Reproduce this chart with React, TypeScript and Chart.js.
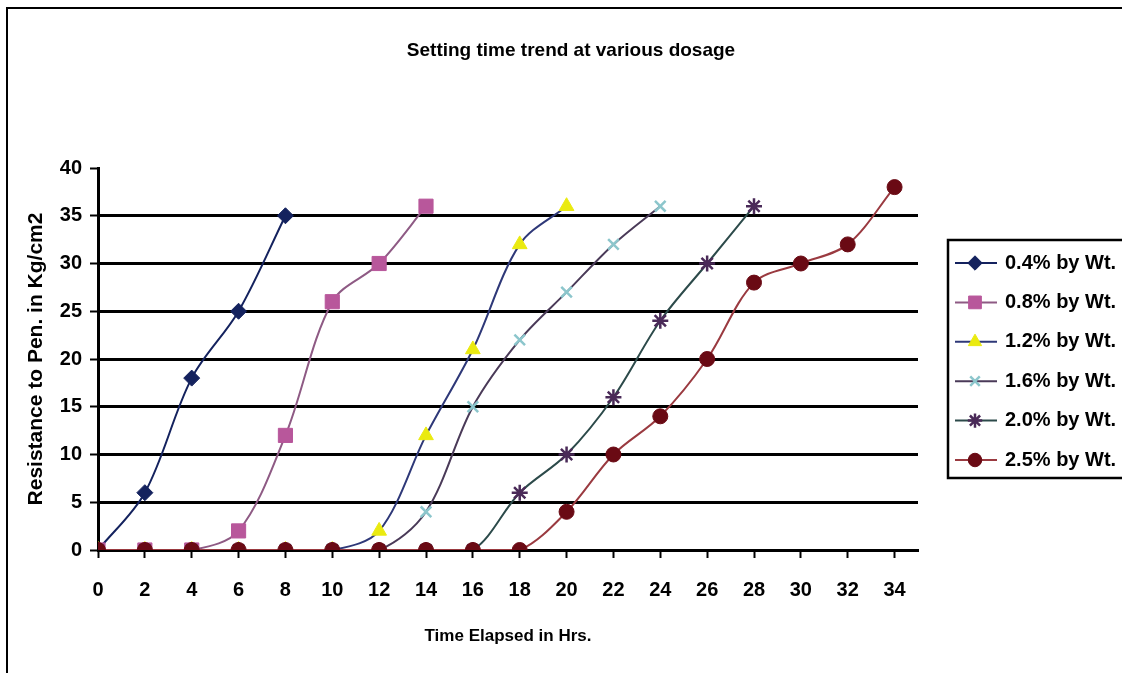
import { useEffect, useRef } from 'react';
import { Chart, registerables } from 'chart.js';
import { drawPoint } from 'chart.js/helpers';

Chart.register(...registerables);

const chartTitle = 'Setting time trend at various dosage';
const xTitle = 'Time Elapsed in Hrs.';
const yTitle = 'Resistance to Pen. in Kg/cm2';

const hours = [0, 2, 4, 6, 8, 10, 12, 14, 16, 18, 20, 22, 24, 26, 28, 30, 32, 34];
const seriesLabels = ['0.4% by Wt.', '0.8% by Wt.', '1.2% by Wt.', '1.6% by Wt.', '2.0% by Wt.', '2.5% by Wt.'];

const dose04 = [0, 6, 18, 25, 35];
const dose08 = [0, 0, 0, 2, 12, 26, 30, 36];
const dose12 = [0, 0, 0, 0, 0, 0, 2, 12, 21, 32, 36];
const dose16 = [0, 0, 0, 0, 0, 0, 0, 4, 15, 22, 27, 32, 36];
const dose20 = [0, 0, 0, 0, 0, 0, 0, 0, 0, 6, 10, 16, 24, 30, 36];
const dose25 = [0, 0, 0, 0, 0, 0, 0, 0, 0, 0, 4, 10, 14, 20, 28, 30, 32, 38];

const FONT = '"Liberation Sans", Arial, sans-serif';

const boxLegend = {
  id: 'boxLegend',
  afterDraw(chart: any) {
    const { ctx, chartArea } = chart;
    const right = chart.width + 20;
    const left = chartArea.right + 30;
    const top = chartArea.top + 72;
    const height = 238;
    ctx.save();
    ctx.strokeStyle = '#000';
    ctx.lineWidth = 2.5;
    ctx.beginPath();
    ctx.moveTo(right, top);
    ctx.lineTo(left, top);
    ctx.lineTo(left, top + height);
    ctx.lineTo(right, top + height);
    ctx.stroke();
    chart.data.datasets.forEach((ds: any, i: number) => {
      const y = top + 23 + i * 39.4;
      ctx.strokeStyle = ds.borderColor;
      ctx.lineWidth = 2;
      ctx.beginPath();
      ctx.moveTo(left + 7, y);
      ctx.lineTo(left + 49, y);
      ctx.stroke();
      ctx.fillStyle = ds.pointBackgroundColor;
      ctx.strokeStyle = ds.pointBorderColor;
      ctx.lineWidth = ds.pointBorderWidth;
      drawPoint(ctx, { pointStyle: ds.pointStyle, radius: ds.pointRadius * 0.9, borderWidth: ds.pointBorderWidth, rotation: 0 } as any, left + 27, y);
      ctx.fillStyle = '#000';
      ctx.font = `bold 20px ${FONT}`;
      ctx.textAlign = 'left';
      ctx.textBaseline = 'middle';
      ctx.fillText(ds.label, left + 57, y);
    });
    ctx.restore();
  },
};

export default function App() {
  const ref = useRef<HTMLCanvasElement>(null);

  useEffect(() => {
    const toXY = (vals: number[]) => vals.map((v, i) => ({ x: hours[i], y: v }));
    const mk = (
      idx: number,
      vals: number[],
      line: string,
      fill: string,
      stroke: string,
      style: string,
      radius: number,
      bw: number,
    ) => ({
      label: seriesLabels[idx],
      data: toXY(vals),
      borderColor: line,
      borderWidth: 2,
      pointBackgroundColor: fill,
      pointBorderColor: stroke,
      pointBorderWidth: bw,
      pointStyle: style,
      pointRadius: radius,
      tension: 0.33,
      order: 6 - idx,
      fill: false,
    });

    const chart = new Chart(ref.current as HTMLCanvasElement, {
      type: 'line',
      data: {
        datasets: [
          mk(0, dose04, '#14225e', '#14225e', '#14225e', 'rectRot', 8, 1),
          mk(1, dose08, '#8e5a84', '#b8579b', '#b8579b', 'rect', 10, 1),
          mk(2, dose12, '#2e3878', '#eaea10', '#eaea10', 'triangle', 8.5, 1),
          mk(3, dose16, '#4a3a58', '#8cc6cc', '#8cc6cc', 'crossRot', 7.5, 2.5),
          mk(4, dose20, '#2c4a4a', '#4a2a58', '#4a2a58', 'star', 8, 2.5),
          mk(5, dose25, '#9a3a40', '#6a0a14', '#6a0a14', 'circle', 7.5, 1),
        ] as any,
      },
      options: {
        responsive: false,
        animation: false,
        layout: { padding: { left: 20, right: 0, top: 0, bottom: 0 } },
        plugins: {
          legend: { display: false },
          tooltip: { enabled: false },
          title: {
            display: true,
            text: chartTitle,
            color: '#000',
            font: { family: FONT, size: 19, weight: 'bold', lineHeight: 1.2 },
            padding: { top: 39.6, bottom: 105.6 },
          },
        },
        scales: {
          x: {
            type: 'linear',
            min: 0,
            max: 35,
            afterFit: (s: any) => { s.height = 123; },
            ticks: {
              stepSize: 2,
              includeBounds: false,
              color: '#000',
              padding: 20,
              maxRotation: 0,
              font: { family: FONT, size: 20, weight: 'bold' },
            },
            grid: {
              drawOnChartArea: false,
              drawTicks: true,
              tickLength: 8,
              tickColor: '#000',
              tickWidth: 2,
            },
            border: { display: true, color: '#000', width: 3 },
            title: {
              display: true,
              text: xTitle,
              color: '#000',
              font: { family: FONT, size: 17, weight: 'bold', lineHeight: 1.2 },
              padding: { top: 0, bottom: 26.8 },
            },
          },
          y: {
            type: 'linear',
            position: 'left',
            min: 0,
            max: 40,
            afterFit: (s: any) => { s.width = 78; },
            ticks: {
              stepSize: 5,
              color: '#000',
              padding: 8,
              font: { family: FONT, size: 20, weight: 'bold' },
            },
            grid: {
              color: (c: any) => (c.tick && c.tick.value === 40 ? 'rgba(0,0,0,0)' : '#000'),
              lineWidth: 3,
              drawTicks: true,
              tickLength: 8,
              tickColor: '#000',
              tickWidth: 2,
            },
            border: { display: true, color: '#000', width: 3 },
            title: {
              display: true,
              text: yTitle,
              color: '#000',
              font: { family: FONT, size: 21, weight: 'bold', lineHeight: 1.2 },
              padding: { top: 4, bottom: 0 },
            },
          },
          yRight: {
            type: 'linear',
            position: 'right',
            display: false,
            afterFit: (s: any) => { s.width = 204; },
          },
        },
      },
      plugins: [boxLegend],
    });

    return () => chart.destroy();
  }, []);

  return (
    <div style={{ position: 'fixed', left: 0, top: 0, width: 1122, height: 673, overflow: 'hidden', background: '#fff' }}>
      <div
        style={{
          position: 'absolute',
          left: 6,
          top: 7,
          width: 1300,
          height: 900,
          border: '2px solid #000',
          pointerEvents: 'none',
        }}
      />
      <canvas ref={ref} width={1122} height={673} style={{ position: 'absolute', left: 0, top: 0, width: 1122, height: 673 }} />
    </div>
  );
}
